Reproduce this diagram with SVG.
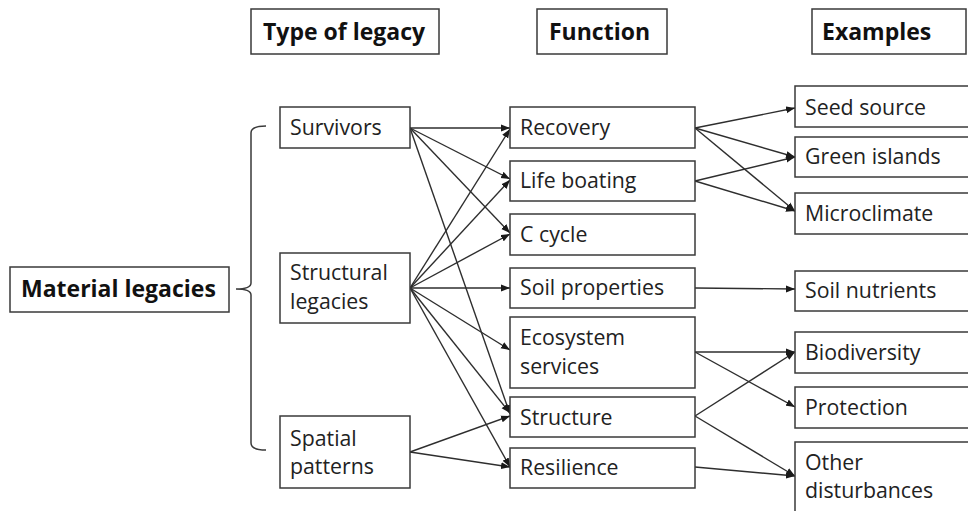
<svg xmlns="http://www.w3.org/2000/svg" width="968" height="511" viewBox="0 0 968 511">
<defs>
<style>
.box{fill:#fff;stroke:#3a3a3a;stroke-width:1.5}
.t{font-family:"Open Sans","Noto Sans","DejaVu Sans",sans-serif;font-size:21.3px;fill:#222}
.h{font-family:"Open Sans","Noto Sans","DejaVu Sans",sans-serif;font-size:23px;font-weight:bold;fill:#111}
.c line{stroke:#2e2e2e;stroke-width:1.4;marker-end:url(#ah)}
.br{fill:none;stroke:#3a3a3a;stroke-width:1.5}
</style>
<marker id="ah" markerUnits="userSpaceOnUse" markerWidth="10" markerHeight="8" refX="9" refY="4" orient="auto">
<path d="M0,0.5 L9,4 L0,7.5 z" fill="#1a1a1a"/>
</marker>
</defs>
<rect width="968" height="511" fill="#fff"/>

<g id="connectors" class="c">
<line x1="410" y1="128" x2="510" y2="128"/>
<line x1="410" y1="128" x2="510" y2="179"/>
<line x1="410" y1="128" x2="510" y2="233"/>
<line x1="410" y1="128" x2="510" y2="414"/>
<line x1="410" y1="288" x2="510" y2="129"/>
<line x1="410" y1="288" x2="510" y2="180"/>
<line x1="410" y1="288" x2="510" y2="234"/>
<line x1="410" y1="288" x2="510" y2="288"/>
<line x1="410" y1="288" x2="510" y2="350"/>
<line x1="410" y1="288" x2="510" y2="413"/>
<line x1="410" y1="288" x2="510" y2="467"/>
<line x1="410" y1="452" x2="510" y2="416"/>
<line x1="410" y1="452" x2="510" y2="467"/>
<line x1="695" y1="128" x2="795" y2="108"/>
<line x1="695" y1="128" x2="795" y2="157"/>
<line x1="695" y1="128" x2="795" y2="211"/>
<line x1="695" y1="181" x2="795" y2="157"/>
<line x1="695" y1="181" x2="795" y2="211"/>
<line x1="695" y1="288" x2="795" y2="289"/>
<line x1="695" y1="352" x2="795" y2="352"/>
<line x1="695" y1="352" x2="795" y2="407"/>
<line x1="695" y1="416" x2="795" y2="352"/>
<line x1="695" y1="416" x2="795" y2="476"/>
<line x1="695" y1="467" x2="795" y2="476"/>
</g>

<g id="bracket">
<path class="br" d="M266,126 Q251,126 251,133 L251,283 Q251,289 236,289 Q251,289 251,295 L251,443 Q251,450 266,450"/>
</g>

<g id="header-type"><rect class="box" x="251" y="9" width="188" height="45"/><text class="h" x="263" y="40">Type of legacy</text></g>
<g id="header-function"><rect class="box" x="537" y="9" width="130" height="45"/><text class="h" x="549" y="40">Function</text></g>
<g id="header-examples"><rect class="box" x="812" y="9" width="154" height="45"/><text class="h" x="822" y="40">Examples</text></g>

<g id="material-legacies"><rect class="box" x="10" y="267" width="219" height="45"/><text class="h" x="21" y="297">Material legacies</text></g>

<g id="survivors"><rect class="box" x="280" y="107" width="130" height="41"/><text class="t" x="290" y="135">Survivors</text></g>
<g id="structural-legacies"><rect class="box" x="280" y="253" width="130" height="70"/><text class="t" x="290" y="280">Structural</text><text class="t" x="290" y="309">legacies</text></g>
<g id="spatial-patterns"><rect class="box" x="280" y="416" width="130" height="72"/><text class="t" x="290" y="446">Spatial</text><text class="t" x="290" y="474">patterns</text></g>

<g id="recovery"><rect class="box" x="510" y="107" width="185" height="41"/><text class="t" x="520" y="135">Recovery</text></g>
<g id="life-boating"><rect class="box" x="510" y="161" width="185" height="40"/><text class="t" x="520" y="188">Life boating</text></g>
<g id="c-cycle"><rect class="box" x="510" y="214" width="185" height="41"/><text class="t" x="520" y="242">C cycle</text></g>
<g id="soil-properties"><rect class="box" x="510" y="268" width="185" height="40"/><text class="t" x="520" y="295">Soil properties</text></g>
<g id="ecosystem-services"><rect class="box" x="510" y="317" width="185" height="71"/><text class="t" x="520" y="345">Ecosystem</text><text class="t" x="520" y="374">services</text></g>
<g id="structure"><rect class="box" x="510" y="397" width="185" height="40"/><text class="t" x="520" y="425">Structure</text></g>
<g id="resilience"><rect class="box" x="510" y="448" width="185" height="40"/><text class="t" x="520" y="475">Resilience</text></g>

<g id="seed-source"><rect class="box" x="795" y="86" width="200" height="41"/><text class="t" x="805" y="115">Seed source</text></g>
<g id="green-islands"><rect class="box" x="795" y="137" width="200" height="40"/><text class="t" x="805" y="164">Green islands</text></g>
<g id="microclimate"><rect class="box" x="795" y="193" width="200" height="41"/><text class="t" x="805" y="221">Microclimate</text></g>
<g id="soil-nutrients"><rect class="box" x="795" y="271" width="200" height="40"/><text class="t" x="805" y="298">Soil nutrients</text></g>
<g id="biodiversity"><rect class="box" x="795" y="332" width="200" height="41"/><text class="t" x="805" y="360">Biodiversity</text></g>
<g id="protection"><rect class="box" x="795" y="387" width="200" height="41"/><text class="t" x="805" y="415">Protection</text></g>
<g id="other-disturbances"><rect class="box" x="795" y="442" width="200" height="90"/><text class="t" x="805" y="470">Other</text><text class="t" x="805" y="498">disturbances</text></g>
</svg>
